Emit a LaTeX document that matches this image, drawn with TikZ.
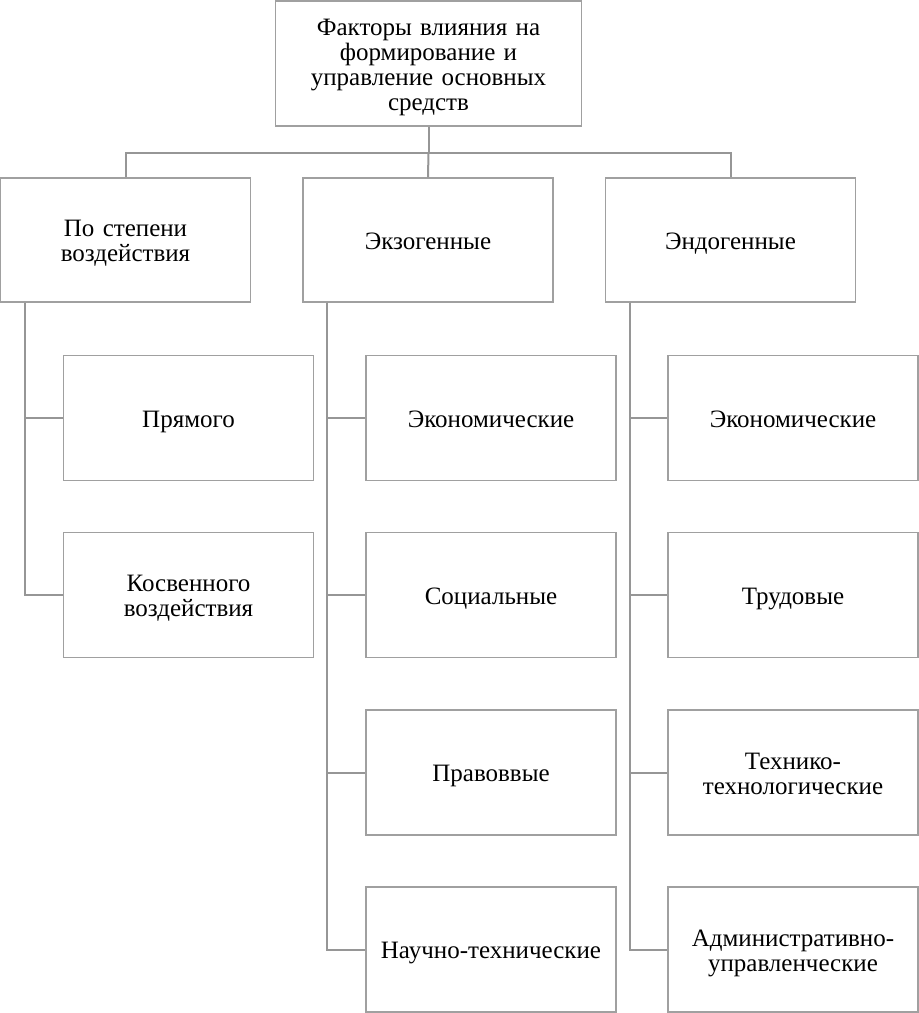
\documentclass[tikz,border=0pt]{standalone}
\usepackage{fontspec}
\setmainfont{Liberation Serif}
\definecolor{linegray}{RGB}{150,150,150}
\definecolor{boxgray}{RGB}{160,160,160}
\begin{document}
\begin{tikzpicture}[x=1pt,y=-1pt,
  box/.style={draw=boxgray, line width=1.3pt, fill=white, align=center, inner sep=0pt,
    font=\fontsize{25}{25}\selectfont, text width=#1,
    execute at begin node={\rule{0pt}{26pt}}, execute at end node={\strut}},
  box/.default=240pt,
  conn/.style={draw=linegray, line width=2pt}]
\useasboundingbox (0,0) rectangle (919,1013);
% top
\node[box=300pt, minimum width=306pt, minimum height=125pt] (top) at (428.5,63.5)
  {Факторы влияния на\\формирование и\\управление основных\\средств};
% level 2
\tikzset{l2/.style={box, minimum width=250pt, minimum height=124pt}}
\tikzset{l3/.style={box, minimum width=250pt, minimum height=125pt}}
\node[l2] (g1) at (125.5,240) {По степени\\воздействия};
\node[l2] (g2) at (428,240) {Экзогенные};
\node[l2] (g3) at (730.5,240) {Эндогенные};
% column 1
\node[l3] (a1) at (188.5,418) {Прямого};
\node[l3] (a2) at (188.5,595) {Косвенного\\воздействия};
% column 2
\node[l3] (b1) at (491,418) {Экономические};
\node[l3] (b2) at (491,595) {Социальные};
\node[l3] (b3) at (491,772.5) {Правоввые};
\node[l3] (b4) at (491,949.5) {Научно-технические};
% column 3
\node[l3] (c1) at (793,418) {Экономические};
\node[l3] (c2) at (793,595) {Трудовые};
\node[l3] (c3) at (793,772.5) {Технико-\\технологические};
\node[l3] (c4) at (793,949.5) {Административно-\\управленческие};
% top connectors
\coordinate (hub) at ([yshift=-26pt]top.south);
\draw[conn] (top.south) -- (hub);
\draw[conn] (hub) -| (g1.north);
\draw[conn] (hub) -- (g2.north);
\draw[conn] (hub) -| (g3.north);
% spines
\foreach \g/\kids in {g1/{a1,a2}, g2/{b1,b2,b3,b4}, g3/{c1,c2,c3,c4}}{
  \foreach \k in \kids {
    \draw[conn] ([xshift=25pt]\g.south west) |- (\k.west);
  }
}
\end{tikzpicture}
\end{document}
